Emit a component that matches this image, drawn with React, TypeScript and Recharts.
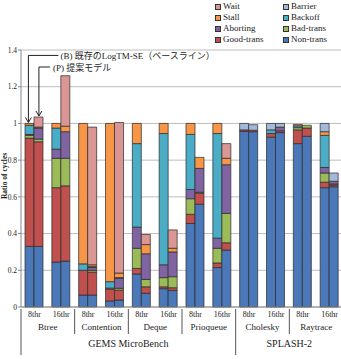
import React from 'react';
import { BarChart, Bar, XAxis, YAxis, CartesianGrid, ReferenceDot } from 'recharts';

const categories = ['Btree-8', 'Btree-16', 'Contention-8', 'Contention-16', 'Deque-8', 'Deque-16', 'Prioqueue-8', 'Prioqueue-16', 'Cholesky-8', 'Cholesky-16', 'Raytrace-8', 'Raytrace-16'];
const threadLabels = ['8thr', '16thr', '8thr', '16thr', '8thr', '16thr', '8thr', '16thr', '8thr', '16thr', '8thr', '16thr'];
const benchmarks = ['Btree', 'Contention', 'Deque', 'Prioqueue', 'Cholesky', 'Raytrace'];
const suites = ['GEMS MicroBench', 'SPLASH-2'];
const suiteStarts = [0, 8];
const suiteEnds = [8, 12];
const yTicks = [0, 0.2, 0.4, 0.6, 0.8, 1, 1.2, 1.4];

// (B) baseline LogTM-SE
const nonB = [0.33, 0.245, 0.065, 0.033, 0.18, 0.1, 0.455, 0.215, 0.957, 0.925, 0.89, 0.65];
const goodB = [0.59, 0.405, 0.135, 0.065, 0.03, 0.01, 0.05, 0.025, 0.008, 0.02, 0.075, 0.03];
const badB = [0.015, 0.16, 0, 0.005, 0.11, 0.05, 0.085, 0.08, 0, 0, 0.012, 0.05];
const abortB = [0.005, 0.05, 0, 0, 0.115, 0.07, 0.05, 0.055, 0, 0, 0, 0.03];
const backoffB = [0.05, 0.115, 0.035, 0.035, 0.455, 0.715, 0.3, 0.57, 0, 0.02, 0.01, 0.175];
const stallB = [0.01, 0.025, 0.765, 0.862, 0.11, 0.055, 0.06, 0.055, 0, 0, 0.008, 0.02];
const barrierB = [0, 0, 0, 0, 0, 0, 0, 0, 0.035, 0.035, 0, 0.045];
const waitB = [0, 0, 0, 0, 0, 0, 0, 0, 0, 0, 0, 0];

// (P) proposed model
const nonP = [0.33, 0.25, 0.065, 0.038, 0.075, 0.09, 0.56, 0.31, 0.955, 0.95, 0.93, 0.655];
const goodP = [0.57, 0.41, 0.125, 0.054, 0.035, 0.015, 0.06, 0.04, 0.008, 0.01, 0.045, 0.01];
const badP = [0.015, 0.15, 0.01, 0.01, 0.04, 0.06, 0.005, 0.16, 0, 0, 0.015, 0.005];
const abortP = [0.06, 0.145, 0.015, 0.055, 0.14, 0.135, 0.13, 0.265, 0, 0.02, 0, 0.015];
const backoffP = [0, 0, 0.005, 0.003, 0, 0, 0, 0, 0, 0, 0, 0];
const stallP = [0.005, 0.03, 0.01, 0.025, 0.05, 0.02, 0.06, 0.035, 0, 0, 0, 0];
const barrierP = [0, 0, 0, 0, 0, 0, 0, 0, 0.03, 0.02, 0, 0.045];
const waitP = [0.055, 0.275, 0.75, 0.82, 0.055, 0.1, 0, 0.08, 0, 0, 0, 0];

const segments = [
  { key: 'non', name: 'Non-trans', color: '#4A78B8', b: nonB, p: nonP },
  { key: 'good', name: 'Good-trans', color: '#C0504D', b: goodB, p: goodP },
  { key: 'bad', name: 'Bad-trans', color: '#9BBB59', b: badB, p: badP },
  { key: 'abort', name: 'Aborting', color: '#8064A2', b: abortB, p: abortP },
  { key: 'backoff', name: 'Backoff', color: '#4BACC6', b: backoffB, p: backoffP },
  { key: 'stall', name: 'Stall', color: '#F79646', b: stallB, p: stallP },
  { key: 'barrier', name: 'Barrier', color: '#A3B9DA', b: barrierB, p: barrierP },
  { key: 'wait', name: 'Wait', color: '#D99694', b: waitB, p: waitP },
];

const legendCols = [['Wait', 'Stall', 'Aborting', 'Good-trans'], ['Barrier', 'Backoff', 'Bad-trans', 'Non-trans']];

const rows = categories.map((cat, i) => {
  const row: any = { cat };
  segments.forEach(s => {
    row['B_' + s.key] = s.b[i];
    row['P_' + s.key] = s.p[i];
  });
  return row;
});

const totalB0 = segments.reduce((a, s) => a + s.b[0], 0);
const totalP0 = segments.reduce((a, s) => a + s.p[0], 0);

const W = 344;
const H = 359;
const LEFT = 21;
const RIGHT = 1;
const BAND = (W - LEFT - RIGHT) / categories.length;
const SERIF = '"Liberation Serif", "Times New Roman", serif';
const JP = '"Liberation Serif", "Noto Sans CJK JP", serif';

function CategoryTick(props: any) {
  const { x, y, index } = props;
  const out: any[] = [];
  out.push(
    <text key="t" x={x} y={y + 10} textAnchor="middle" fontSize={8} fontFamily={SERIF} fill="#222">
      {threadLabels[index]}
    </text>
  );
  if (index % 2 === 0) {
    const left = x - BAND / 2;
    const isSuiteStart = suiteStarts.includes(index);
    out.push(<line key="d" x1={left} x2={left} y1={y + 2} y2={isSuiteStart ? y + 48 : y + 27} stroke="#555" strokeWidth={1} />);
    out.push(
      <text key="b" x={x + BAND / 2} y={y + 23} textAnchor="middle" fontSize={9} fontFamily={SERIF} fill="#222">
        {benchmarks[index / 2]}
      </text>
    );
    const si = suiteStarts.indexOf(index);
    if (si >= 0) {
      const center = left + ((suiteEnds[si] - suiteStarts[si]) * BAND) / 2;
      out.push(
        <text key="s" x={center} y={y + 40} textAnchor="middle" fontSize={10} fontFamily={SERIF} fill="#222">
          {suites[si]}
        </text>
      );
    }
  }
  return <g>{out}</g>;
}

function Arrow({ x, yTop, yTip }: { x: number; yTop: number; yTip: number }) {
  return (
    <g>
      <line x1={x} x2={x} y1={yTop} y2={yTip} stroke="#222" strokeWidth={1} />
      <polyline points={`${x - 3},${yTip - 5} ${x},${yTip} ${x + 3},${yTip - 5}`} fill="none" stroke="#222" strokeWidth={1} />
    </g>
  );
}

function BaselineNote(props: any) {
  const { cx, cy } = props;
  const ax = cx - 6;
  const ly = cy - 68;
  return (
    <g>
      <line x1={ax} x2={ax + 30} y1={ly} y2={ly} stroke="#222" strokeWidth={1} />
      <Arrow x={ax} yTop={ly} yTip={cy - 1} />
      <text x={ax + 32} y={ly + 4} fontSize={9} fontFamily={JP} fill="#222">(B) 既存のLogTM-SE（ベースライン）</text>
    </g>
  );
}

function ProposedNote(props: any) {
  const { cx, cy } = props;
  const ax = cx + 4.5;
  const ly = cy - 50;
  return (
    <g>
      <line x1={ax} x2={ax + 11} y1={ly} y2={ly} stroke="#222" strokeWidth={1} />
      <Arrow x={ax} yTop={ly} yTip={cy - 1} />
      <text x={ax + 14} y={ly + 4} fontSize={9} fontFamily={JP} fill="#222">(P) 提案モデル</text>
    </g>
  );
}

function LegendBox() {
  return (
    <div style={{ position: 'absolute', left: 215, top: 1, display: 'flex', fontFamily: SERIF, fontSize: 9, color: '#222' }}>
      {legendCols.map((col, ci) => (
        <div key={ci} style={{ width: 68 }}>
          {col.map(name => {
            const seg = segments.find(s => s.name === name)!;
            return (
              <div key={name} style={{ display: 'flex', alignItems: 'center', height: 11, lineHeight: '11px' }}>
                <span style={{ display: 'inline-block', width: 4, height: 4, background: seg.color, border: '0.8px solid #333', marginRight: 2 }} />
                {name}
              </div>
            );
          })}
        </div>
      ))}
    </div>
  );
}

function YLabel() {
  return (
    <svg width={12} height={H} style={{ position: 'absolute', left: 0, top: 0, pointerEvents: 'none' }}>
      <text x={5} y={176} transform="rotate(-90 5 176)" textAnchor="middle" fontSize={7.5} fontWeight="bold" fontFamily={SERIF} fill="#222" dominantBaseline="middle">
        Ratio of cycles
      </text>
    </svg>
  );
}

export default function App() {
  return (
    <div style={{ position: 'absolute', left: 0, top: 0, width: 341, height: H, overflow: 'hidden', background: '#fff' }}>
      <BarChart width={W} height={H} data={rows} margin={{ top: 50, right: RIGHT, bottom: 2, left: 0 }} barGap={0} barSize={9}>
        <CartesianGrid vertical={false} stroke="#bdbdbd" />
        <XAxis
          dataKey="cat"
          interval={0}
          height={50}
          tickLine={false}
          tickSize={0}
          tickMargin={0}
          axisLine={{ stroke: '#888' }}
          tick={<CategoryTick />}
        />
        <YAxis
          width={LEFT}
          domain={[0, 1.4]}
          ticks={yTicks}
          interval={0}
          tickLine={{ stroke: '#888' }}
          tickSize={3}
          tickMargin={1}
          axisLine={{ stroke: '#888' }}
          tick={{ fontSize: 7.5, fontFamily: SERIF, fill: '#222' }}
          tickFormatter={(v: number) => String(Number(v.toFixed(1)))}
        />
        {segments.map(s => (
          <Bar key={'B_' + s.key} dataKey={'B_' + s.key} stackId="B" fill={s.color} stroke="#2a2a2a" strokeWidth={0.7} isAnimationActive={false} />
        ))}
        {segments.map(s => (
          <Bar key={'P_' + s.key} dataKey={'P_' + s.key} stackId="P" fill={s.color} stroke="#2a2a2a" strokeWidth={0.7} isAnimationActive={false} />
        ))}
        <ReferenceDot x={categories[0]} y={totalB0} ifOverflow="visible" shape={(p: any) => <BaselineNote {...p} />} />
        <ReferenceDot x={categories[0]} y={totalP0} ifOverflow="visible" shape={(p: any) => <ProposedNote {...p} />} />
      </BarChart>
      <YLabel />
      <LegendBox />
    </div>
  );
}
